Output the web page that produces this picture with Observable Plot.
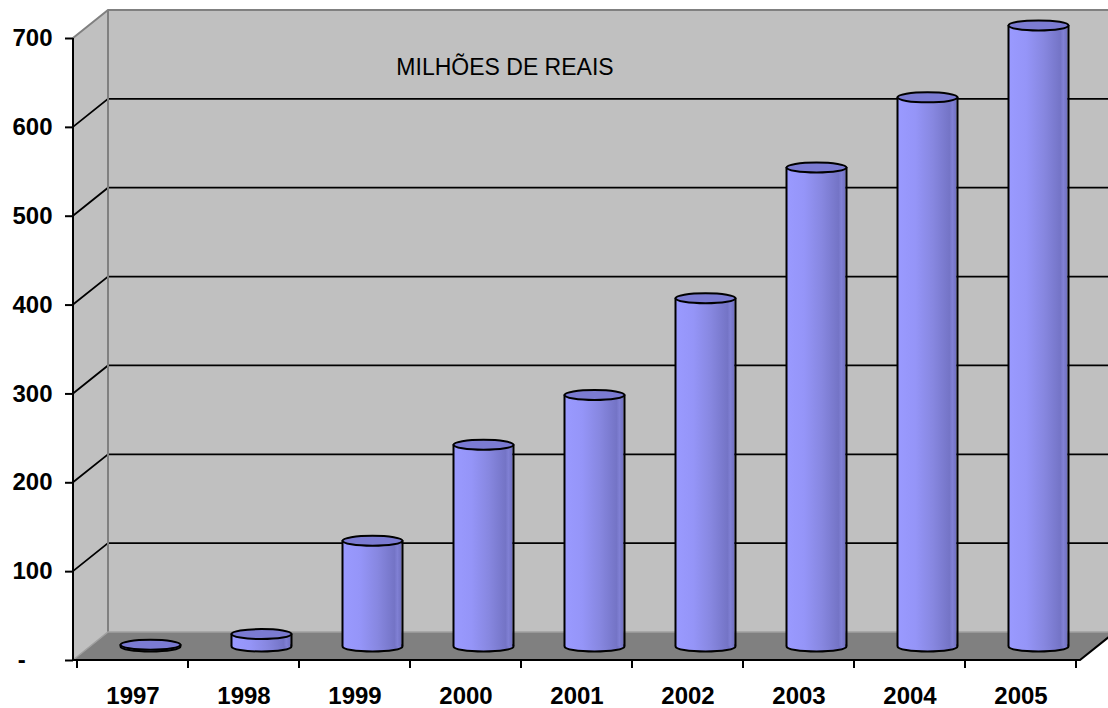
<!DOCTYPE html>
<html>
<head>
<meta charset="utf-8">
<script src="https://cdn.jsdelivr.net/npm/d3@7"></script>
<script src="https://cdn.jsdelivr.net/npm/@observablehq/plot@0.6"></script>
<style>
  html, body { margin: 0; padding: 0; background: #ffffff; }
</style>
</head>
<body>
<div id="chart"></div>
<script>
// ---- data ----
const years = ["1997", "1998", "1999", "2000", "2001", "2002", "2003", "2004", "2005"];
const values = [2, 14, 119, 227, 283, 392, 539, 618, 699];
const yTicks = [0, 100, 200, 300, 400, 500, 600, 700];
const title = "MILHÕES DE REAIS";

const data = years.map((year, i) => ({year, value: values[i]}));

// ---- layout / style ----
const W = 1108, H = 708;
const ML = 73, MR = 28, MT = 38, MB = 48;
const DX = 35, DY = -28;            // 3D depth offset
const CX = DX / 2, CY = DY / 2;     // cylinders sit at mid depth
const RX = 30, RY = 5;              // cylinder radius / ellipse flattening
const BW = (W - ML - MR) / years.length;
const INSET = (BW - 2 * RX) / 2;
const WALL = "#c0c0c0", FLOOR = "#808080", EDGE = "#808080";

const ellipse = {
  draw(ctx) {
    const k = 0.5523;
    ctx.moveTo(RX, 0);
    ctx.bezierCurveTo(RX, RY * k, RX * k, RY, 0, RY);
    ctx.bezierCurveTo(-RX * k, RY, -RX, RY * k, -RX, 0);
    ctx.bezierCurveTo(-RX, -RY * k, -RX * k, -RY, 0, -RY);
    ctx.bezierCurveTo(RX * k, -RY, RX, -RY * k, RX, 0);
    ctx.closePath();
  }
};

function walls(index, {y}, values, dim) {
  const x0 = dim.marginLeft, x1 = dim.width - dim.marginRight;
  const y0 = y(0), yT = y(yTicks[yTicks.length - 1]);
  const g = d3.create("svg:g");
  // left wall
  g.append("path")
    .attr("d", `M${x0},${y0}L${x0},${yT}L${x0 + DX},${yT + DY}L${x0 + DX},${y0 + DY}Z`)
    .attr("fill", WALL);
  // back wall
  g.append("rect")
    .attr("x", x0 + DX).attr("y", yT + DY)
    .attr("width", x1 - x0).attr("height", y0 - yT)
    .attr("fill", WALL);
  // gridlines (back wall + left wall)
  for (const t of yTicks.slice(1, -1)) {
    const yy = y(t);
    g.append("path")
      .attr("d", `M${x0},${yy}L${x0 + DX},${yy + DY}L${x1 + DX},${yy + DY}`)
      .attr("fill", "none").attr("stroke", "#000").attr("stroke-width", 1.8);
  }
  // wall edges
  g.append("path")
    .attr("d", `M${x0},${yT}L${x0 + DX},${yT + DY}L${x1 + DX},${yT + DY}M${x0 + DX},${yT + DY}L${x0 + DX},${y0 + DY}`)
    .attr("fill", "none").attr("stroke", EDGE).attr("stroke-width", 2);
  // floor
  g.append("path")
    .attr("d", `M${x0},${y0}L${x1},${y0}L${x1 + DX},${y0 + DY}L${x0 + DX},${y0 + DY}Z`)
    .attr("fill", FLOOR);
  g.append("path")
    .attr("d", `M${x0},${y0}L${x0 + DX},${y0 + DY}L${x1 + DX},${y0 + DY}`)
    .attr("fill", "none").attr("stroke", "#a0a0a0").attr("stroke-width", 1.5);
  return g.node();
}

function frontAxes(index, {x, y}, values, dim) {
  const x0 = dim.marginLeft, x1 = dim.width - dim.marginRight;
  const y0 = y(0), yT = y(yTicks[yTicks.length - 1]);
  const g = d3.create("svg:g").attr("stroke", "#000").attr("fill", "none");
  g.append("path").attr("d", `M${x0},${yT}L${x0},${y0}L${x1},${y0}L${x1 + DX},${y0 + DY}`).attr("stroke-width", 2);
  const bw = x.bandwidth();
  const bounds = years.map(d => x(d)).concat([x(years[years.length - 1]) + bw]);
  for (const b of bounds) {
    g.append("line").attr("x1", b).attr("x2", b).attr("y1", y0).attr("y2", y0 + 8).attr("stroke-width", 2);
  }
  return g.node();
}

const plot = Plot.plot({
  width: W,
  height: H,
  marginLeft: ML,
  marginRight: MR,
  marginTop: MT,
  marginBottom: MB,
  style: {fontFamily: "'Liberation Sans', Arial, sans-serif", background: "#ffffff", color: "#000"},
  x: {domain: years, padding: 0, axis: null},
  y: {domain: [0, 700], axis: null},
  marks: [
    walls,
    Plot.text([title], {
      frameAnchor: "top", dx: -72, dy: 20, lineAnchor: "top",
      fontSize: 23, fill: "#000"
    }),
    // cylinder bottoms
    Plot.dot(data, {x: "year", y: () => 0, symbol: ellipse, fill: "url(#cyl)", stroke: "#000", strokeWidth: 2, dx: CX, dy: CY}),
    // cylinder bodies
    Plot.barY(data, {x: "year", y: "value", fill: "url(#cyl)", insetLeft: INSET, insetRight: INSET, dx: CX, dy: CY}),
    // cylinder sides
    Plot.ruleX(data, {x: "year", y1: () => 0, y2: "value", stroke: "#000", strokeWidth: 2, dx: CX - RX, dy: CY}),
    Plot.ruleX(data, {x: "year", y1: () => 0, y2: "value", stroke: "#000", strokeWidth: 2, dx: CX + RX, dy: CY}),
    // cylinder tops
    Plot.dot(data, {x: "year", y: "value", symbol: ellipse, fill: "#7b7bd2", stroke: "#000", strokeWidth: 2, dx: CX, dy: CY}),
    frontAxes,
    Plot.axisY({
      ticks: yTicks, label: null, tickSize: 8, tickPadding: 13, strokeWidth: 2,
      fontSize: 24, fontWeight: "bold",
      tickFormat: d => d === 0 ? "-\u00a0\u00a0\u00a0\u00a0" : String(d)
    }),
    Plot.axisX({
      label: null, tickSize: 0, tickPadding: 26, fontSize: 24, fontWeight: "bold"
    })
  ]
});

d3.select(plot).insert("defs", ":first-child").html(`
  <linearGradient id="cyl" x1="0" y1="0" x2="1" y2="0">
    <stop offset="0" stop-color="#9a9aff"/>
    <stop offset="0.3" stop-color="#9595f8"/>
    <stop offset="0.6" stop-color="#8787e0"/>
    <stop offset="0.88" stop-color="#7474c6"/>
    <stop offset="0.93" stop-color="#8080d4"/>
    <stop offset="1" stop-color="#7070c0"/>
  </linearGradient>`);

document.getElementById("chart").appendChild(plot);
</script>
</body>
</html>
